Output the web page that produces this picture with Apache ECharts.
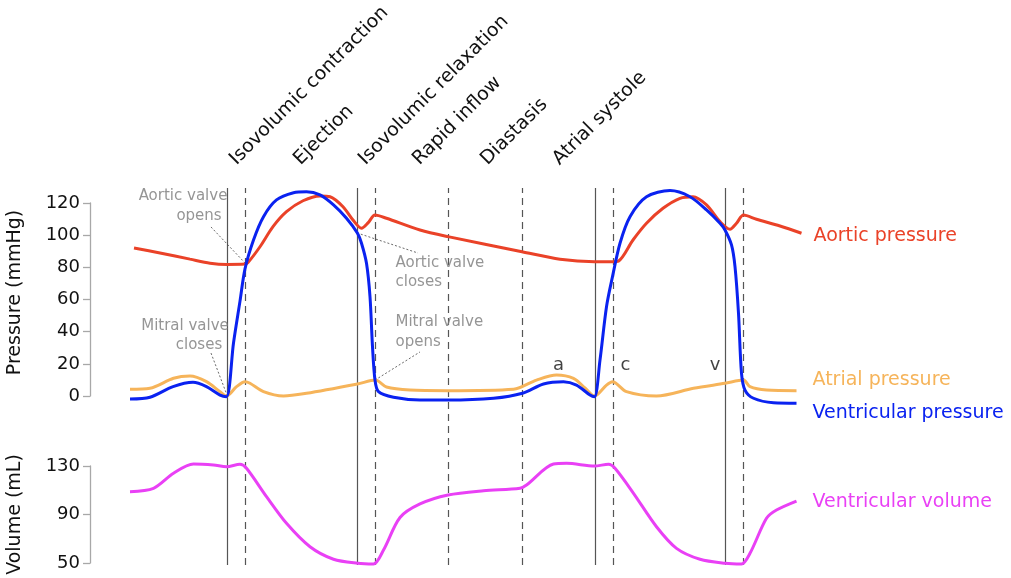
<!DOCTYPE html>
<html>
<head>
<meta charset="utf-8">
<title>Wiggers diagram</title>
<script src="https://cdn.jsdelivr.net/npm/echarts@6/dist/echarts.min.js"></script>
<style>
html, body { margin: 0; padding: 0; background: #fff; }
#chart { width: 1011px; height: 578px; }
</style>
</head>
<body>
<div id="chart"></div>
<script>
// time in ms (two heart cycles), pressure in mmHg, volume in mL
var aorticPressure = [[8,92],[60,88.9],[120,85.1],[160,82.6],[194,81.8],[230,82],[236,83],[260,92.8],[286,105.3],[313,114.6],[346,121.4],[380,124.4],[400,123.9],[426,117.7],[446,109.4],[463,104.3],[476,107.6],[490,112.5],[513,110.5],[580,103.2],[636,99.1],[784,89.7],[860,85],[929,83.5],[965,83.5],[977,83.9],[1006,97],[1033,107.4],[1066,116.7],[1100,122.9],[1126,123.9],[1153,118.8],[1180,108.4],[1200,103.7],[1213,107.4],[1227,112.5],[1253,109.9],[1300,105.7],[1343,101.2]];
var atrialPressure = [[0,4.2],[40,4.8],[87,11],[120,12.4],[153,8.9],[180,2.7],[193,0],[213,5.8],[230,8.9],[240,7.9],[267,2.7],[307,0],[353,1.7],[455,7.5],[491,9.9],[513,5.6],[560,3.7],[636,3.3],[767,4.2],[813,9.9],[853,13.1],[887,11],[910,5],[929,0],[953,6.8],[965,8.9],[993,2.7],[1053,0],[1127,4.8],[1190,7.9],[1227,9.9],[1240,5.8],[1273,3.7],[1333,3.3]];
var ventricularPressure = [[0,-1.9],[40,-0.8],[86,5.8],[126,8.5],[153,5.8],[180,0.6],[193,-0.4],[207,33],[220,59],[230,79],[247,97],[267,111.5],[293,121.9],[327,126.4],[353,127],[380,125],[407,118.8],[433,110.5],[455,101.2],[463,95],[473,82.5],[480,61.7],[485,30.7],[490,9.9],[497,2.7],[527,-0.8],[580,-2.5],[636,-2.5],[727,-1.4],[785,1.7],[827,7.5],[867,8.9],[893,6.8],[920,0.6],[929,-0.4],[940,22.4],[953,55.5],[965,74.2],[980,95],[1000,111.5],[1033,123.9],[1080,127.7],[1120,123.9],[1153,115.7],[1180,107.4],[1190,103.2],[1203,93.9],[1210,80.4],[1217,51.4],[1223,14.1],[1230,3.7],[1247,-1.4],[1287,-4.2],[1333,-4.5]];
var ventricularVolume = [[0,108.8],[47,111.6],[87,124],[127,131.6],[167,130.8],[193,129.4],[220,131.4],[233,128.1],[273,104.7],[313,82.7],[360,63.4],[407,53.1],[455,49.8],[487,49.2],[507,60.7],[540,87.5],[580,98.7],[636,106.1],[707,109.6],[780,111.6],[793,114.3],[847,131.6],[873,132.2],[929,130],[957,131.4],[970,128.1],[1007,107.5],[1053,79.9],[1093,62.1],[1140,53.1],[1190,49.8],[1223,49.2],[1240,58],[1273,86.9],[1293,93.7],[1333,101.1]];

// valve events (solid) and other phase boundaries (dashed)
var valveTimes = [194, 454, 930, 1190];
var phaseTimes = [230, 490, 636, 784, 966, 1226];

var phaseNames = ['Isovolumic contraction', 'Ejection', 'Isovolumic relaxation', 'Rapid inflow', 'Diastasis', 'Atrial systole'];
var phaseLabelAt = [206, 334, 464, 572, 708, 852];

var waveNames = ['a', 'c', 'v'];
var waveTimes = [857, 991, 1170];
var waveLevel = 19;

// note text lines: [text, time, pressure, align]
var valveNotes = [
  ['Aortic valve', 106, 124.4, 'center'],
  ['opens', 138, 111.9, 'center'],
  ['Mitral valve', 110, 43.7, 'center'],
  ['closes', 138, 31.7, 'center'],
  ['Aortic valve', 531, 82.9, 'left'],
  ['closes', 531, 71.1, 'left'],
  ['Mitral valve', 531, 45.8, 'left'],
  ['opens', 531, 33.4, 'left']
];
var noteLeaders = [
  [[162, 105.1], [230, 82.7]],
  [[162, 26.7], [194, 0.6]],
  [[454, 101.4], [576, 88.9]],
  [[490, 9.9], [580, 27.4]]
];

var FONT = 'DejaVu Sans';
var tMax = 1344;

var myChart = echarts.init(document.getElementById('chart'), null, { renderer: 'canvas' });

function yAxisStyle(name) {
  return {
    type: 'value',
    offset: 40,
    name: name,
    nameLocation: 'middle',
    nameGap: 65,
    nameTextStyle: { fontFamily: FONT, fontSize: 19, color: '#111' },
    axisLine: { show: true, onZero: false, lineStyle: { color: '#a8a8a8', width: 1.3 } },
    axisTick: { show: true, length: 7, lineStyle: { color: '#a8a8a8', width: 1.3 } },
    axisLabel: { margin: 10, fontFamily: FONT, fontSize: 18, color: '#111' },
    splitLine: { show: false }
  };
}

function curve(name, data, color, xi, yi, lblOffset) {
  return {
    name: name,
    type: 'line',
    xAxisIndex: xi,
    yAxisIndex: yi,
    data: data,
    smooth: 0.3,
    showSymbol: false,
    clip: false,
    z: 5,
    lineStyle: { color: color, width: 3 },
    itemStyle: { color: color },
    endLabel: {
      show: true,
      formatter: name,
      distance: 0,
      offset: lblOffset,
      fontFamily: FONT,
      fontSize: 19,
      color: color
    }
  };
}

var pAxis = yAxisStyle('Pressure (mmHg)');
pAxis.min = 0; pAxis.max = 120; pAxis.interval = 20;
pAxis.gridIndex = 0;
pAxis.nameTextStyle.padding = [0, 0, 0, 14];
var vAxis = yAxisStyle('Volume (mL)');
vAxis.min = 50; vAxis.max = 130; vAxis.interval = 40;
vAxis.gridIndex = 1;

var markers = [];
valveTimes.forEach(function (t) {
  markers.push({ xAxis: t, lineStyle: { type: 'solid', color: '#555', width: 1.2 } });
});
phaseTimes.forEach(function (t) {
  markers.push({ xAxis: t, lineStyle: { type: [7, 5], color: '#555', width: 1.2 } });
});

option = {
  animation: false,
  backgroundColor: '#fff',
  grid: [
    { left: 130, right: 209, top: 203, height: 193, outerBoundsMode: 'none' },
    { left: 130, right: 209, top: 466, height: 97, outerBoundsMode: 'none' },
    { left: 130, right: 209, top: 188, bottom: 13, outerBoundsMode: 'none' }
  ],
  xAxis: [
    { gridIndex: 0, type: 'value', min: 0, max: tMax, show: false },
    { gridIndex: 1, type: 'value', min: 0, max: tMax, show: false },
    {
      gridIndex: 2, type: 'value', min: 0, max: tMax, position: 'top',
      axisLine: { show: false }, axisTick: { show: false }, splitLine: { show: false },
      axisLabel: {
        customValues: phaseLabelAt,
        rotate: 45,
        margin: 26,
        fontFamily: FONT,
        fontSize: 19,
        color: '#111',
        hideOverlap: false,
        formatter: function (v) { return phaseNames[phaseLabelAt.indexOf(v)] || ''; }
      }
    }
  ],
  yAxis: [
    pAxis,
    vAxis,
    { gridIndex: 2, type: 'value', min: 0, max: 1, show: false }
  ],
  series: [
    {
      type: 'line', xAxisIndex: 2, yAxisIndex: 2, z: 1,
      data: [[0, 0]], showSymbol: false, lineStyle: { opacity: 0 },
      markLine: { silent: true, symbol: 'none', label: { show: false }, data: markers }
    },
    curve('Aortic pressure', aorticPressure, '#ea4228', 0, 0, [12, 3]),
    curve('Atrial pressure', atrialPressure, '#f6b45a', 0, 0, [16, -11]),
    curve('Ventricular pressure', ventricularPressure, '#0a22f0', 0, 0, [16, 10]),
    curve('Ventricular volume', ventricularVolume, '#e940f5', 1, 1, [16, 1]),
    {
      type: 'scatter', xAxisIndex: 0, yAxisIndex: 0, z: 6, clip: false,
      symbolSize: 0,
      data: valveNotes.map(function (n) {
        return {
          value: [n[1], n[2]],
          label: {
            show: true, position: 'inside', formatter: n[0], align: n[3], verticalAlign: 'middle',
            fontFamily: FONT, fontSize: 15, color: '#7a7a7a'
          }
        };
      }),
      markLine: {
        silent: true, symbol: 'none', label: { show: false },
        lineStyle: { type: [2, 2], color: '#444', width: 0.8 },
        data: noteLeaders.map(function (l) {
          return [{ coord: l[0] }, { coord: l[1] }];
        })
      }
    },
    {
      type: 'scatter', xAxisIndex: 0, yAxisIndex: 0, z: 6, clip: false,
      symbolSize: 0,
      data: waveTimes.map(function (t, i) {
        return {
          value: [t, waveLevel],
          label: {
            show: true, position: 'inside', formatter: waveNames[i],
            fontFamily: FONT, fontSize: 18, color: '#111'
          }
        };
      })
    }
  ]
};

myChart.setOption(option);
window.addEventListener('resize', function () {
  myChart.resize();
});
</script>
</body>
</html>
